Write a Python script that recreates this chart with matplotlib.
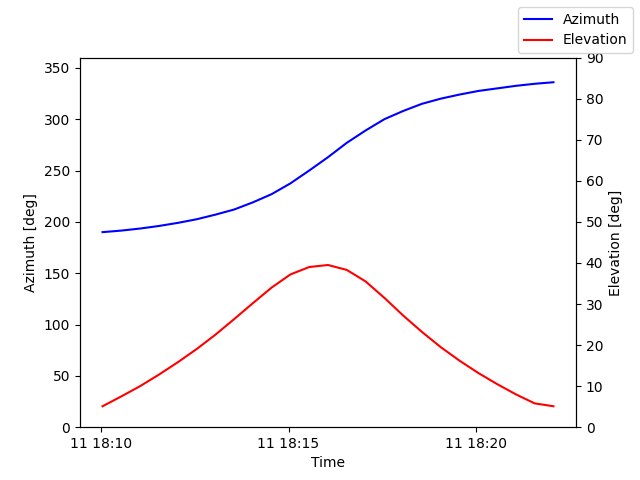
import matplotlib
matplotlib.use("Agg")
import matplotlib.pyplot as plt
import matplotlib.dates as mdates
import pandas as pd

times = pd.date_range("2024-01-11 18:10:03", periods=25, freq="30s")
azimuth = [190, 191.5, 193.5, 196, 199, 202.5, 207, 212, 219, 227, 237.5, 250, 263,
           277, 289, 300, 308, 315, 320, 324, 327.5, 330, 332.5, 334.5, 336]
elevation = [5.1, 7.5, 10, 12.8, 15.8, 19, 22.5, 26.3, 30.2, 34, 37.2, 39, 39.5,
             38.3, 35.5, 31.5, 27.2, 23.2, 19.5, 16.2, 13.2, 10.5, 8, 5.8, 5.1]

fig, ax = plt.subplots(figsize=(6.4, 4.8), dpi=100)
l1, = ax.plot(times, azimuth, color="blue", label="Azimuth")
ax.set_ylim(0, 360)
ax.set_ylabel("Azimuth [deg]")
ax.set_xlabel("Time")
ax2 = ax.twinx()
l2, = ax2.plot(times, elevation, color="red", label="Elevation")
ax2.set_ylim(0, 90)
ax2.set_ylabel("Elevation [deg]")
ax.xaxis.set_major_locator(mdates.MinuteLocator(byminute=[10, 15, 20]))
ax.xaxis.set_major_formatter(mdates.DateFormatter("%d %H:%M"))
fig.legend(handles=[l1, l2], loc="upper right")
fig.savefig("out.png")
